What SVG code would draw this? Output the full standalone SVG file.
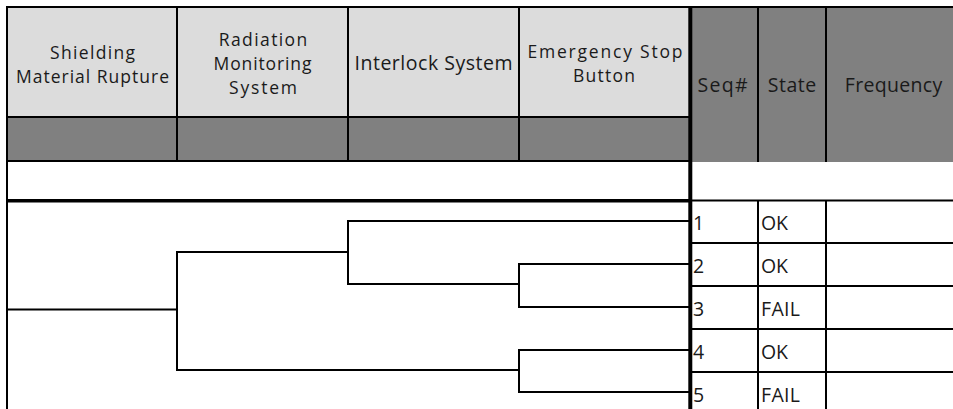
<svg xmlns="http://www.w3.org/2000/svg" width="953" height="409" viewBox="0 0 953 409">
<style>
text{font-family:"Open Sans","Noto Sans","Liberation Sans",sans-serif;font-size:19.5px;fill:#1a1a1a}
.c{text-anchor:middle}
.m{font-size:17.5px}
.hl{fill:#dcdcdc}
.hd{fill:#808080}
.ln{stroke:#000;stroke-width:2;fill:none}
.tk{stroke:#000;stroke-width:3.4;fill:none}
.tr{stroke:#000;stroke-width:2;fill:none;stroke-linecap:square}
</style>
<rect x="0" y="0" width="953" height="409" fill="#fff"/>
<g id="header-shielding">
<rect class="hl" x="7" y="7" width="170" height="110"/>
<rect class="hd" x="7" y="117" width="170" height="44"/>
<text class="c m"><tspan x="92.5" y="58.5" textLength="85" lengthAdjust="spacing">Shielding</tspan><tspan x="92.5" y="82.5" textLength="153" lengthAdjust="spacing">Material Rupture</tspan></text>
</g>
<g id="header-radiation">
<rect class="hl" x="177" y="7" width="171" height="110"/>
<rect class="hd" x="177" y="117" width="171" height="44"/>
<text class="c m"><tspan x="263" y="45.5" textLength="88.5" lengthAdjust="spacing">Radiation</tspan><tspan x="262.5" y="69.5" textLength="98" lengthAdjust="spacing">Monitoring</tspan><tspan x="263" y="93.5" textLength="68" lengthAdjust="spacing">System</tspan></text>
</g>
<g id="header-interlock">
<rect class="hl" x="348" y="7" width="171" height="110"/>
<rect class="hd" x="348" y="117" width="171" height="44"/>
<text class="c" x="433.5" y="70" textLength="158" lengthAdjust="spacing">Interlock System</text>
</g>
<g id="header-estop">
<rect class="hl" x="519" y="7" width="171" height="110"/>
<rect class="hd" x="519" y="117" width="171" height="44"/>
<text class="c m"><tspan x="605" y="58" textLength="155" lengthAdjust="spacing">Emergency Stop</tspan><tspan x="604" y="82" textLength="62" lengthAdjust="spacing">Button</tspan></text>
</g>
<g id="header-right">
<rect class="hd" x="690" y="7" width="263" height="155"/>
<text class="c" x="722.5" y="91.5" textLength="50" lengthAdjust="spacing">Seq#</text>
<text class="c" x="792" y="91.5" textLength="48.5" lengthAdjust="spacing">State</text>
<text class="c" x="893.5" y="91.5" textLength="97.5" lengthAdjust="spacing">Frequency</text>
</g>
<g id="grid">
<line class="ln" x1="6" y1="7" x2="953" y2="7"/>
<line class="ln" x1="7" y1="6" x2="7" y2="409"/>
<line class="ln" x1="7" y1="117" x2="690" y2="117"/>
<line class="ln" x1="7" y1="161" x2="690" y2="161"/>
<line class="ln" x1="177" y1="7" x2="177" y2="161"/>
<line class="ln" x1="348" y1="7" x2="348" y2="161"/>
<line class="ln" x1="519" y1="7" x2="519" y2="161"/>
<line class="ln" x1="758" y1="7" x2="758" y2="162"/>
<line class="ln" x1="826" y1="7" x2="826" y2="162"/>
<line class="tk" x1="7" y1="200.7" x2="690" y2="200.7"/>
<line class="ln" x1="690" y1="200.5" x2="953" y2="200.5"/>
<line class="ln" x1="690" y1="243" x2="953" y2="243"/>
<line class="ln" x1="690" y1="286" x2="953" y2="286"/>
<line class="ln" x1="690" y1="329" x2="953" y2="329"/>
<line class="ln" x1="690" y1="372" x2="953" y2="372"/>
<line class="ln" x1="758" y1="200" x2="758" y2="409"/>
<line class="ln" x1="826" y1="200" x2="826" y2="409"/>
<line stroke="#000" stroke-width="4" x1="690.3" y1="6" x2="690.3" y2="409"/>
</g>
<g id="connectors">
<path class="tr" d="M7 309.5H177M177 252V370M177 252H348M348 221V284M348 221H690M348 284H519M519 264V307M519 264H690M519 307H690M177 370H519M519 350V392M519 350H690M519 392H690"/>
</g>
<g id="row-1"><text x="693" y="230">1</text><text x="761" y="230" textLength="27" lengthAdjust="spacing">OK</text></g>
<g id="row-2"><text x="693" y="273">2</text><text x="761" y="273" textLength="27" lengthAdjust="spacing">OK</text></g>
<g id="row-3"><text x="693" y="316">3</text><text x="761" y="316" textLength="39" lengthAdjust="spacing">FAIL</text></g>
<g id="row-4"><text x="693" y="359">4</text><text x="761" y="359" textLength="27" lengthAdjust="spacing">OK</text></g>
<g id="row-5"><text x="693" y="402">5</text><text x="761" y="402" textLength="39" lengthAdjust="spacing">FAIL</text></g>
</svg>
